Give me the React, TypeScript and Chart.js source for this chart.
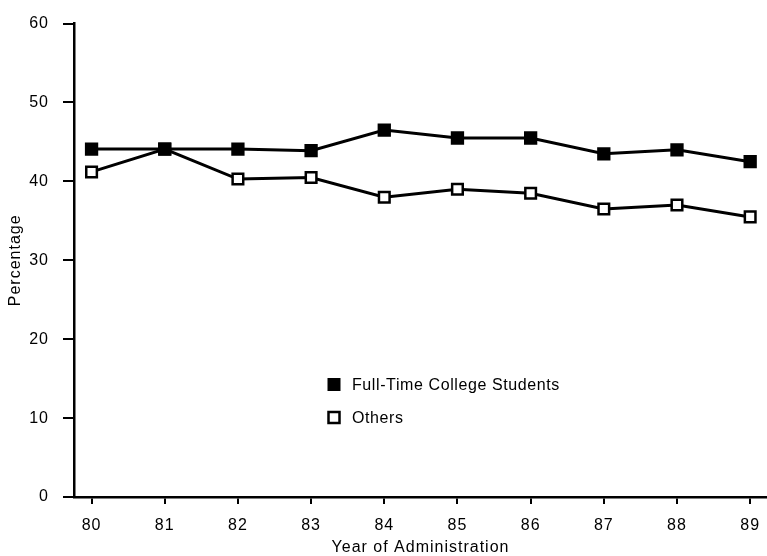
import React, { useEffect, useRef } from "react";
import { Chart, registerables } from "chart.js";

Chart.register(...registerables);

const years = [80, 81, 82, 83, 84, 85, 86, 87, 88, 89];
const xTickLabels = ["80", "81", "82", "83", "84", "85", "86", "87", "88", "89"];
const fullTimeStudents = [44.1, 44.1, 44.1, 43.9, 46.5, 45.5, 45.5, 43.5, 44.0, 42.5];
const others = [41.2, 44.1, 40.3, 40.5, 38.0, 39.0, 38.5, 36.5, 37.0, 35.5];
const seriesNames = ["Full-Time College Students", "Others"];
const yTicks = [0, 10, 20, 30, 40, 50, 60];

const FONT = "'Liberation Sans', Arial, Helvetica, sans-serif";

const spacingPlugin = {
  id: "letterSpacing",
  beforeUpdate(chart: any) {
    chart.ctx.letterSpacing = "1px";
  },
  beforeDraw(chart: any) {
    chart.ctx.letterSpacing = "1px";
  },
};

const insideLegend = {
  id: "insideLegend",
  afterDraw(chart: any) {
    const ctx = chart.ctx;
    const area = chart.chartArea;
    const mx = area.left + 260;
    const tx = area.left + 278;
    const rows = [area.top + 361, area.top + 394];
    ctx.save();
    ctx.letterSpacing = "0.6px";
    chart.data.datasets.forEach((ds: any, i: number) => {
      const y = rows[i];
      ctx.fillStyle = ds.pointBackgroundColor;
      ctx.strokeStyle = ds.pointBorderColor;
      ctx.lineWidth = ds.pointBorderWidth;
      ctx.beginPath();
      ctx.rect(mx - 5.5, y - 5.5, 11, 11);
      ctx.fill();
      ctx.stroke();
      ctx.fillStyle = "#000";
      ctx.font = `16px ${FONT}`;
      ctx.textAlign = "left";
      ctx.textBaseline = "middle";
      ctx.fillText(ds.label, tx, y + 1);
    });
    ctx.restore();
  },
};

export default function App() {
  const ref = useRef<HTMLCanvasElement | null>(null);

  useEffect(() => {
    if (!ref.current) return;
    const chart = new Chart(ref.current, {
      type: "line",
      data: {
        datasets: [
          {
            label: seriesNames[0],
            data: years.map((x, i) => ({ x, y: fullTimeStudents[i] })),
            borderColor: "#000",
            borderWidth: 3,
            pointStyle: "rect",
            pointRadius: 8,
            pointBackgroundColor: "#000",
            pointBorderColor: "#000",
            pointBorderWidth: 2,
            tension: 0,
          },
          {
            label: seriesNames[1],
            data: years.map((x, i) => ({ x, y: others[i] })),
            borderColor: "#000",
            borderWidth: 3,
            pointStyle: "rect",
            pointRadius: 7.5,
            pointBackgroundColor: "#fff",
            pointBorderColor: "#000",
            pointBorderWidth: 2.5,
            tension: 0,
          },
        ],
      },
      options: {
        animation: false,
        responsive: false,
        devicePixelRatio: 1,
        layout: { autoPadding: false, padding: { top: 18, right: 0, left: 0, bottom: 0 } },
        plugins: {
          legend: { display: false },
          tooltip: { enabled: false },
          title: { display: false },
        },
        scales: {
          x: {
            type: "linear",
            min: 79.76,
            max: 89.23,
            afterBuildTicks: (scale: any) => {
              scale.ticks = years.map((v) => ({ value: v }));
            },
            afterFit: (scale: any) => {
              scale.height = 59;
              scale.paddingRight = 0;
              scale.paddingLeft = 0;
            },
            ticks: {
              autoSkip: false,
              maxRotation: 0,
              color: "#000",
              font: { family: FONT, size: 16 },
              padding: 12,
              callback: (v: any) => {
                const i = years.indexOf(Number(v));
                return i >= 0 ? xTickLabels[i] : "";
              },
            },
            grid: {
              drawOnChartArea: false,
              drawTicks: true,
              tickLength: 7,
              color: "#000",
              lineWidth: 2,
            },
            border: { display: true, color: "#000", width: 2.5 },
            title: {
              display: true,
              text: "Year of Administration",
              color: "#000",
              font: { family: FONT, size: 16, lineHeight: 1 },
              padding: { top: 0, bottom: 0 },
            },
          },
          y: {
            min: 0,
            max: 60,
            afterBuildTicks: (scale: any) => {
              scale.ticks = yTicks.map((v) => ({ value: v }));
            },
            afterFit: (scale: any) => {
              scale.width = 74;
            },
            ticks: {
              color: "#000",
              font: { family: FONT, size: 16 },
              padding: 14,
            },
            grid: {
              drawOnChartArea: false,
              drawTicks: true,
              tickLength: 11,
              color: "#000",
              lineWidth: 2,
            },
            border: { display: true, color: "#000", width: 2.5 },
            title: {
              display: true,
              text: "Percentage",
              color: "#000",
              font: { family: FONT, size: 16, lineHeight: 1 },
              padding: { top: 8, bottom: 0 },
            },
          },
        },
      },
      plugins: [spacingPlugin, insideLegend],
    } as any);
    return () => chart.destroy();
  }, []);

  return (
    <div style={{ position: "absolute", left: 0, top: 0, width: 767, height: 556, background: "#fff" }}>
      <canvas ref={ref} width={767} height={556} style={{ display: "block", width: 767, height: 556 }} />
    </div>
  );
}
